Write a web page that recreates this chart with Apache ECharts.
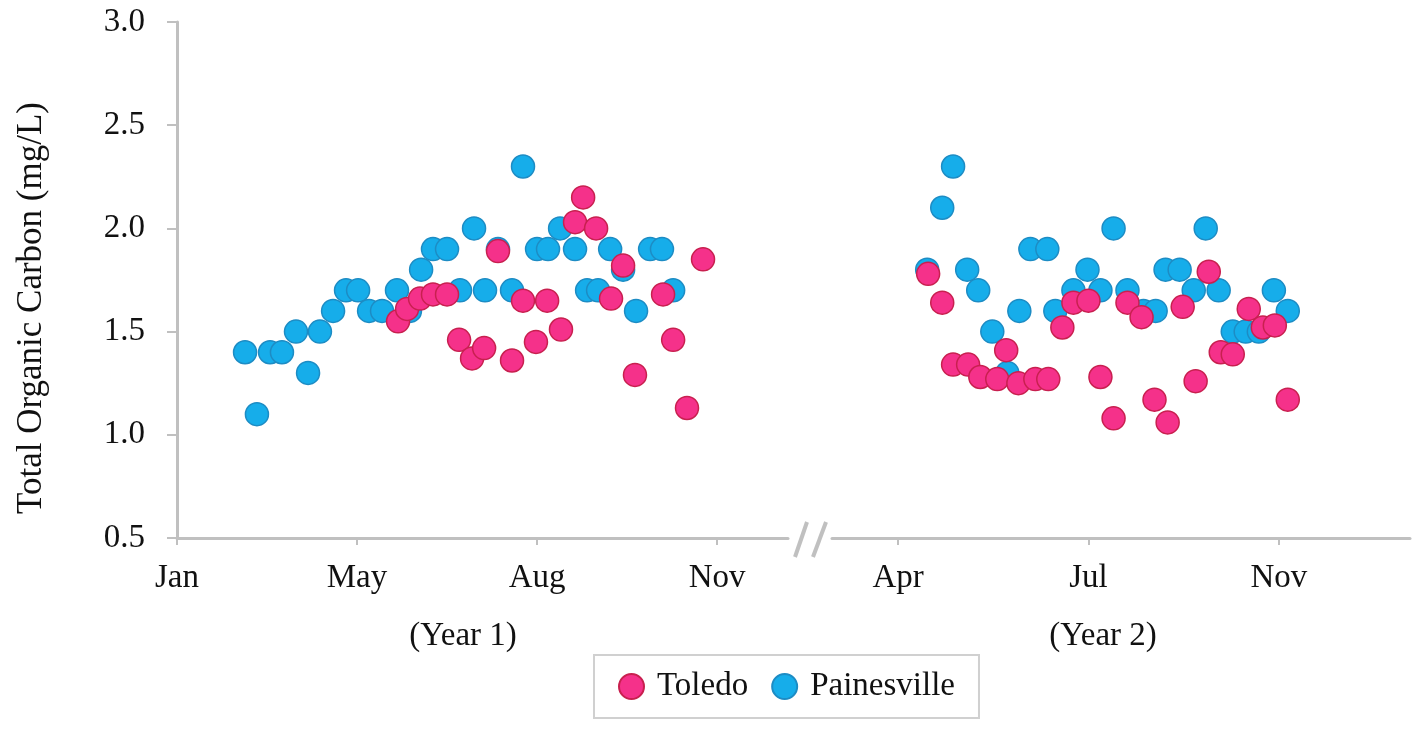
<!DOCTYPE html>
<html>
<head>
<meta charset="utf-8">
<script src="https://cdn.jsdelivr.net/npm/echarts@6/dist/echarts.min.js"></script>
<style>
html,body{margin:0;padding:0;background:#fff;}
#chart{width:1417px;height:739px;}
</style>
</head>
<body>
<div id="chart"></div>
<script>
/* x positions are in tick units: Year 1 Jan=0 May=1 Aug=2 Nov=3, Year 2 Apr=0 Jul=1 Nov=2 */
var year1Ticks = ['Jan', 'May', 'Aug', 'Nov'];
var year2Ticks = ['Apr', 'Jul', 'Nov'];
var yTicks = [0.5, 1.0, 1.5, 2.0, 2.5, 3.0];

/*Toledo, year 1*/
var toledo1X = [1.228, 1.278, 1.350, 1.422, 1.500, 1.567, 1.639, 1.706, 1.783, 1.861, 1.922, 1.994,
    2.056, 2.133, 2.211, 2.256, 2.328, 2.411, 2.478, 2.544, 2.700, 2.756, 2.833, 2.922];
var toledo1Y = [1.55, 1.61, 1.66, 1.68, 1.68, 1.46, 1.37, 1.42, 1.89, 1.36, 1.65, 1.45,
    1.65, 1.51, 2.03, 2.15, 2.00, 1.66, 1.82, 1.29, 1.68, 1.46, 1.13, 1.85];

/*Painesville, year 1*/
var paines1X = [0.378, 0.444, 0.517, 0.583, 0.661, 0.728, 0.794, 0.867, 0.939, 1.006, 1.067, 1.139,
    1.222, 1.294, 1.356, 1.422, 1.500, 1.572, 1.650, 1.711, 1.783, 1.861, 1.922, 2.000,
    2.061, 2.128, 2.211, 2.278, 2.339, 2.406, 2.478, 2.550, 2.628, 2.694, 2.756];
var paines1Y = [1.4, 1.1, 1.4, 1.4, 1.5, 1.3, 1.5, 1.6, 1.7, 1.7, 1.6, 1.6,
    1.7, 1.6, 1.8, 1.9, 1.9, 1.7, 2.0, 1.7, 1.9, 1.7, 2.3, 1.9,
    1.9, 2.0, 1.9, 1.7, 1.7, 1.9, 1.8, 1.6, 1.9, 1.9, 1.7];

/*Toledo, year 2*/
var toledo2X = [0.158, 0.232, 0.289, 0.368, 0.432, 0.521, 0.568, 0.632, 0.721, 0.789, 0.863, 0.921,
    1.000, 1.063, 1.132, 1.205, 1.279, 1.347, 1.416, 1.495, 1.563, 1.632, 1.695, 1.758,
    1.842, 1.916, 1.979, 2.047];
var toledo2Y = [1.78, 1.64, 1.34, 1.34, 1.28, 1.27, 1.41, 1.25, 1.27, 1.27, 1.52, 1.64,
    1.65, 1.28, 1.08, 1.64, 1.57, 1.17, 1.06, 1.62, 1.26, 1.79, 1.40, 1.39,
    1.61, 1.52, 1.53, 1.17];

/*Painesville, year 2*/
var paines2X = [0.153, 0.232, 0.289, 0.363, 0.421, 0.495, 0.574, 0.637, 0.695, 0.784, 0.826, 0.921,
    0.995, 1.063, 1.132, 1.205, 1.289, 1.353, 1.405, 1.479, 1.553, 1.616, 1.684, 1.758,
    1.826, 1.895, 1.974, 2.047];
var paines2Y = [1.8, 2.1, 2.3, 1.8, 1.7, 1.5, 1.3, 1.6, 1.9, 1.9, 1.6, 1.7,
    1.8, 1.7, 2.0, 1.7, 1.6, 1.6, 1.8, 1.8, 1.7, 2.0, 1.7, 1.5,
    1.5, 1.5, 1.7, 1.6];

function pairs(xs, ys){
    var out = [];
    for (var i = 0; i < xs.length; i++) out.push([xs[i], ys[i]]);
    return out;
}

var font = 'Liberation Serif';
var axisGray = '#c0c0c0';
var toledoStyle = {color: '#f5318a', borderColor: '#c8204f', borderWidth: 1.5, opacity: 1};
var painesStyle = {color: '#16adea', borderColor: '#1d8cc4', borderWidth: 1.5, opacity: 1};

var option = {
    animation: false,
    textStyle: {fontFamily: font},
    grid: [
        {left: 177, right: 629, top: 22, bottom: 201},
        {left: 832, right: 7, top: 22, bottom: 201}
    ],
    legend: {
        data: ['Toledo', 'Painesville'],
        left: 594,
        top: 655,
        orient: 'horizontal',
        icon: 'circle',
        itemWidth: 25,
        itemHeight: 25,
        itemGap: 23,
        padding: [15, 24],
        borderColor: '#d0d0d0',
        borderWidth: 2,
        textStyle: {fontFamily: font, fontSize: 33, color: '#111', padding: [0, 0, 0, 8]}
    },
    xAxis: [
        {
            gridIndex: 0, type: 'value', min: 0, max: 3.394, interval: 1,
            axisLine: {onZero: false, lineStyle: {color: axisGray, width: 3}},
            axisTick: {show: true, length: 7, lineStyle: {color: axisGray, width: 2}},
            splitLine: {show: false},
            axisLabel: {
                fontFamily: font, fontSize: 33, color: '#111', margin: 24, showMaxLabel: false,
                formatter: function(v){ return year1Ticks[Math.round(v)] || ''; }
            }
        },
        {
            gridIndex: 1, type: 'value', min: -0.347, max: 2.689,
            axisLine: {onZero: false, lineStyle: {color: axisGray, width: 3}},
            axisTick: {show: true, length: 7, customValues: [0, 1, 2], lineStyle: {color: axisGray, width: 2}},
            splitLine: {show: false},
            axisLabel: {
                fontFamily: font, fontSize: 33, color: '#111', margin: 24, customValues: [0, 1, 2],
                formatter: function(v){ return year2Ticks[Math.round(v)] || ''; }
            }
        }
    ],
    yAxis: [
        {
            gridIndex: 0, type: 'value', min: yTicks[0], max: yTicks[yTicks.length - 1], interval: 0.5,
            axisLine: {show: true, onZero: false, lineStyle: {color: axisGray, width: 3}},
            axisTick: {show: true, length: 10, lineStyle: {color: axisGray, width: 2}},
            splitLine: {show: false},
            axisLabel: {
                fontFamily: font, fontSize: 33, color: '#111', margin: 32,
                formatter: function(v){ return v.toFixed(1); }
            }
        },
        {
            gridIndex: 1, type: 'value', min: yTicks[0], max: yTicks[yTicks.length - 1], interval: 0.5,
            show: false
        }
    ],
    graphic: [
        {
            type: 'text', x: 32, y: 308, rotation: Math.PI / 2,
            style: {text: 'Total Organic Carbon (mg/L)', font: '35px "Liberation Serif"', fill: '#111',
                textAlign: 'center', textVerticalAlign: 'middle'}
        },
        {
            type: 'text', x: 463, y: 636,
            style: {text: '(Year 1)', font: '33px "Liberation Serif"', fill: '#111',
                textAlign: 'center', textVerticalAlign: 'middle'}
        },
        {
            type: 'text', x: 1103, y: 636,
            style: {text: '(Year 2)', font: '33px "Liberation Serif"', fill: '#111',
                textAlign: 'center', textVerticalAlign: 'middle'}
        },
        {
            type: 'line', shape: {x1: 795, y1: 557, x2: 807, y2: 522},
            style: {stroke: axisGray, lineWidth: 4}
        },
        {
            type: 'line', shape: {x1: 813, y1: 557, x2: 826, y2: 522},
            style: {stroke: axisGray, lineWidth: 4}
        }
    ],
    series: [
        {
            name: 'Painesville', type: 'scatter', xAxisIndex: 0, yAxisIndex: 0, z: 2,
            symbolSize: 23, itemStyle: painesStyle, data: pairs(paines1X, paines1Y)
        },
        {
            name: 'Painesville', type: 'scatter', xAxisIndex: 1, yAxisIndex: 1, z: 2,
            symbolSize: 23, itemStyle: painesStyle, data: pairs(paines2X, paines2Y)
        },
        {
            name: 'Toledo', type: 'scatter', xAxisIndex: 0, yAxisIndex: 0, z: 3,
            symbolSize: 23, itemStyle: toledoStyle, data: pairs(toledo1X, toledo1Y)
        },
        {
            name: 'Toledo', type: 'scatter', xAxisIndex: 1, yAxisIndex: 1, z: 3,
            symbolSize: 23, itemStyle: toledoStyle, data: pairs(toledo2X, toledo2Y)
        }
    ]
};

echarts.init(document.getElementById('chart')).setOption(option);
</script>
</body>
</html>
